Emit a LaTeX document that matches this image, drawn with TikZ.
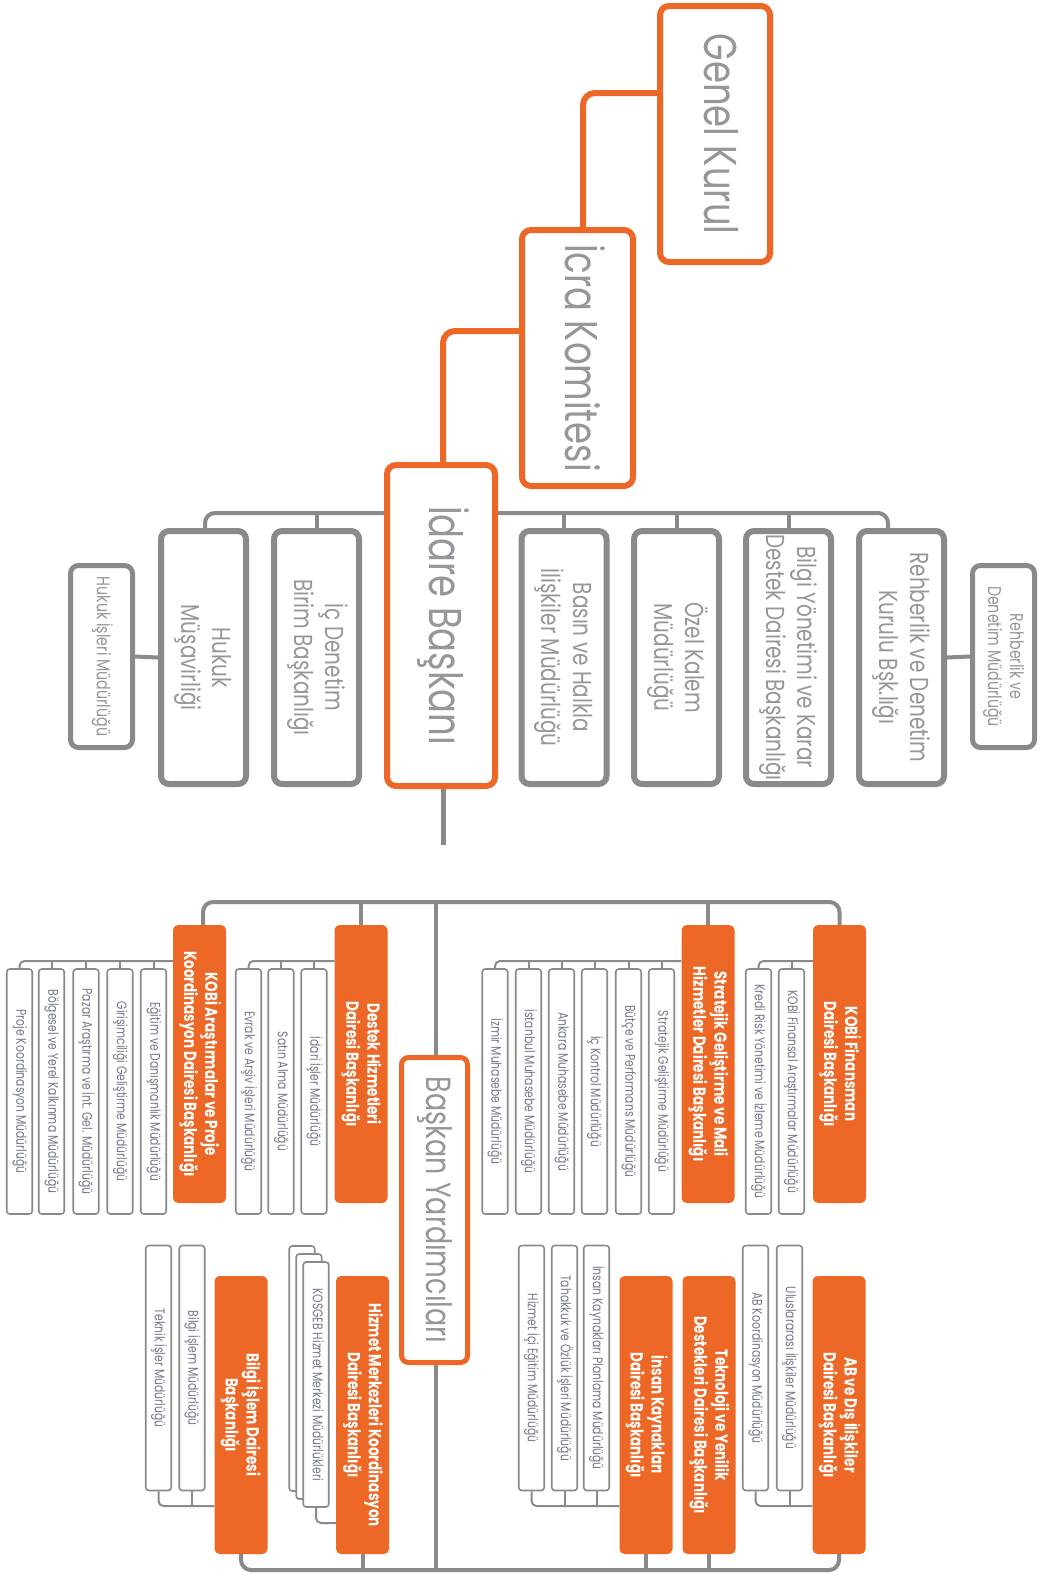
\documentclass[tikz,border=0pt]{standalone}
\usepackage{fontspec}
\setmainfont{Poppins}
\usepackage{graphicx}
\usetikzlibrary{backgrounds}

\definecolor{kosorange}{RGB}{237,104,38}
\definecolor{boxgray}{RGB}{138,138,138}
\definecolor{txtgray}{RGB}{150,150,156}
\definecolor{unittxt}{RGB}{115,121,138}

\newcommand{\vtxt}[1]{\rotatebox{-90}{\scalebox{0.77}[1]{\begin{tabular}{@{}c@{}}#1\end{tabular}}}}

\tikzset{
  topbox/.style={draw=kosorange, line width=6pt, rounded corners=9pt, fill=white, inner sep=0pt,
    minimum width=110pt, minimum height=256pt, text=txtgray, font=\fontsize{46}{54}\selectfont},
  midbox/.style={draw=boxgray, line width=6pt, rounded corners=8pt, fill=white, inner sep=0pt,
    minimum width=85pt, minimum height=253pt, text=txtgray, font=\fontsize{26}{31}\selectfont},
  sidebox/.style={midbox, line width=5pt, minimum width=62pt, minimum height=182pt,
    font=\fontsize{18.5}{22}\selectfont},
  yardbox/.style={topbox, line width=5pt, rounded corners=7pt, minimum width=66pt, minimum height=305pt,
    font=\fontsize{35}{42}\selectfont},
  depbox/.style={fill=kosorange, rounded corners=5pt, inner sep=0pt, minimum width=53pt,
    minimum height=278pt, text=white, font=\fontsize{17.5}{21}\selectfont\bfseries},
  unitbox/.style={draw=boxgray, line width=1.6pt, rounded corners=3pt, fill=white, inner sep=0pt,
    minimum width=25.5pt, minimum height=245pt, text=unittxt, font=\fontsize{14}{16}\selectfont},
  oline/.style={draw=kosorange, line width=6pt, rounded corners=12pt},
  gline/.style={draw=boxgray, line width=4pt, rounded corners=10pt},
  uline/.style={draw=boxgray, line width=2pt, rounded corners=5pt}
}

\begin{document}
\begin{tikzpicture}[x=1pt, y=-1pt]
\useasboundingbox (0,0) rectangle (1047,1577);

\node[topbox] (genel) at (715,134) {\vtxt{Genel Kurul}};
\node[topbox, minimum width=111pt] (icra) at (577.5,358) {\vtxt{İcra Komitesi}};
\node[topbox, minimum width=108pt, minimum height=321pt] (idare) at (441,625.5) {\vtxt{İdare Başkanı}};

\node[midbox] (hukuk) at (203.5,657.5) {\vtxt{Hukuk\\Müşavirliği}};
\node[midbox] (icdenetim) at (316.5,657.5) {\vtxt{İç Denetim\\Birim Başkanlığı}};
\node[midbox] (basin) at (564,657.5) {\vtxt{Basın ve Halkla\\İlişkiler Müdürlüğü}};
\node[midbox] (ozel) at (676.5,657.5) {\vtxt{Özel Kalem\\Müdürlüğü}};
\node[midbox] (bilgiyon) at (788.5,657.5) {\vtxt{Bilgi Yönetimi ve Karar\\Destek Dairesi Başkanlığı}};
\node[midbox] (rehber) at (901.5,657.5) {\vtxt{Rehberlik ve Denetim\\Kurulu Bşk.lığı}};
\node[sidebox] (hukukis) at (101.5,656.5) {\vtxt{Hukuk İşleri Müdürlüğü}};
\node[sidebox] (rehbermd) at (1003.5,656.5) {\vtxt{Rehberlik ve\\Denetim Müdürlüğü}};

\node[yardbox] (baskan) at (434.5,1210) {\vtxt{Başkan Yardımcıları}};

\node[depbox] (kobiar) at (199.5,1064) {\vtxt{KOBİ Araştırmalar ve Proje\\Koordinasyon Dairesi Başkanlığı}};
\node[depbox] (destek) at (361,1064) {\vtxt{Destek Hizmetleri\\Dairesi Başkanlığı}};
\node[depbox] (strat) at (708,1064) {\vtxt{Stratejik Geliştirme ve Mali\\Hizmetler Dairesi Başkanlığı}};
\node[depbox] (kobifin) at (839.5,1064) {\vtxt{KOBİ Finansman\\Dairesi Başkanlığı}};
\node[depbox] (bilgiis) at (241,1415) {\vtxt{Bilgi İşlem Dairesi\\Başkanlığı}};
\node[depbox] (hizmet) at (362.5,1415) {\vtxt{Hizmet Merkezleri Koordinasyon\\Dairesi Başkanlığı}};
\node[depbox] (insan) at (646,1415) {\vtxt{İnsan Kaynakları\\Dairesi Başkanlığı}};
\node[depbox] (tekno) at (709,1415) {\vtxt{Teknoloji ve Yenilik\\Destekleri Dairesi Başkanlığı}};
\node[depbox] (ab) at (839,1415) {\vtxt{AB ve Dış İlişkiler\\Dairesi Başkanlığı}};

\foreach \x/\lbl [count=\i] in {153.5/{Eğitim ve Danışmanlık Müdürlüğü}, 120/{Girişimciliği Geliştirme Müdürlüğü},
    86/{Pazar Araştırma ve İnt. Gel. Müdürlüğü}, 51.5/{Bölgesel ve Yerel Kalkınma Müdürlüğü}, 19.5/{Proje Koordinasyon Müdürlüğü}}
  \node[unitbox] (ka\i) at (\x,1091.5) {\vtxt{\lbl}};
\foreach \x/\lbl [count=\i] in {314/{İdari İşler Müdürlüğü}, 281/{Satın Alma Müdürlüğü}, 248.5/{Evrak ve Arşiv İşleri Müdürlüğü}}
  \node[unitbox] (dh\i) at (\x,1091.5) {\vtxt{\lbl}};
\foreach \x/\lbl [count=\i] in {661.5/{Stratejik Geliştirme Müdürlüğü}, 628.5/{Bütçe ve Performans Müdürlüğü},
    594.5/{İç Kontrol Müdürlüğü}, 561.5/{Ankara Muhasebe Müdürlüğü}, 528.5/{İstanbul Muhasebe Müdürlüğü}, 495/{İzmir Muhasebe Müdürlüğü}}
  \node[unitbox] (sg\i) at (\x,1091.5) {\vtxt{\lbl}};
\foreach \x/\lbl [count=\i] in {791.5/{KOBİ Finansal Araştırmalar Müdürlüğü}, 758.5/{Kredi Risk Yönetimi ve İzleme Müdürlüğü}}
  \node[unitbox] (kf\i) at (\x,1091.5) {\vtxt{\lbl}};

\foreach \x/\lbl [count=\i] in {192/{Bilgi İşlem Müdürlüğü}, 158.5/{Teknik İşler Müdürlüğü}}
  \node[unitbox] (bi\i) at (\x,1368) {\vtxt{\lbl}};
\node[unitbox] (hm1) at (302,1368.5) {};
\node[unitbox] (hm2) at (309,1376.5) {};
\node[unitbox] (hm3) at (316,1384.5) {\vtxt{KOSGEB Hizmet Merkezi Müdürlükleri}};
\foreach \x/\lbl [count=\i] in {596.5/{İnsan Kaynakları Planlama Müdürlüğü}, 564.5/{Tahakkuk ve Özlük İşleri Müdürlüğü},
    531.5/{Hizmet İçi Eğitim Müdürlüğü}}
  \node[unitbox] (ik\i) at (\x,1368) {\vtxt{\lbl}};
\foreach \x/\lbl [count=\i] in {789.5/{Uluslararası İlişkiler Müdürlüğü}, 755.5/{AB Koordinasyon Müdürlüğü}}
  \node[unitbox] (ab\i) at (\x,1368) {\vtxt{\lbl}};

\coordinate (midbus) at (441,513);
\coordinate (idareend) at (443,845);
\coordinate (lowbus) at (436,902);
\coordinate (botbus) at (436,1570);
\coordinate (ubusT) at (0,961);
\coordinate (ubusB) at (0,1506);
\coordinate (hbus) at (0,1523);

\begin{scope}[on background layer]
\draw[oline] ([yshift=41pt]genel.west) -| ([xshift=5.5pt]icra.north);
\draw[oline] ([yshift=27pt]icra.west) -| ([xshift=2pt]idare.north);

\draw[gline] ([xshift=1.5pt]hukuk.north) |- (midbus) -| ([xshift=-13.5pt]rehber.north);
\foreach \n in {icdenetim, basin, ozel, bilgiyon}
  \draw[gline] (\n.north) -- (\n.north |- midbus);
\draw[gline] (hukuk.west) -- (hukukis.east);
\draw[gline] (rehber.east) -- (rehbermd.west);
\draw[gline, line width=5pt] (idare.south -| idareend) -- (idareend);

\draw[gline] ([xshift=3.5pt]kobiar.north) |- (lowbus) -| (kobifin.north);
\foreach \n in {destek, strat}
  \draw[gline] (\n.north) -- (\n.north |- lowbus);
\draw[gline] (lowbus) -- (lowbus |- baskan.north);
\draw[gline] (lowbus |- baskan.south) -- (botbus);
\draw[gline] (bilgiis.south) |- (botbus) -| (ab.south);
\foreach \n in {hizmet, insan, tekno}
  \draw[gline] (\n.south) -- (\n.south |- botbus);

\draw[uline] (kobiar.west |- ubusT) -| (ka5.north);
\foreach \i in {1,...,4}
  \draw[uline] (ka\i.north) -- (ka\i.north |- ubusT);
\draw[uline] (destek.west |- ubusT) -| (dh3.north);
\foreach \i in {1,2}
  \draw[uline] (dh\i.north) -- (dh\i.north |- ubusT);
\draw[uline] (strat.west |- ubusT) -| (sg6.north);
\foreach \i in {1,...,5}
  \draw[uline] (sg\i.north) -- (sg\i.north |- ubusT);
\draw[uline] (kobifin.west |- ubusT) -| (kf2.north);
\draw[uline] (kf1.north) -- (kf1.north |- ubusT);

\draw[uline] (bilgiis.west |- ubusB) -| (bi2.south);
\draw[uline] (bi1.south) -- (bi1.south |- ubusB);
\draw[uline] (hizmet.west |- hbus) -| (hm3.south);
\draw[uline] (insan.west |- ubusB) -| (ik3.south);
\foreach \i in {1,2}
  \draw[uline] (ik\i.south) -- (ik\i.south |- ubusB);
\draw[uline] (ab.west |- ubusB) -| (ab2.south);
\draw[uline] (ab1.south) -- (ab1.south |- ubusB);
\end{scope}
\end{tikzpicture}
\end{document}
